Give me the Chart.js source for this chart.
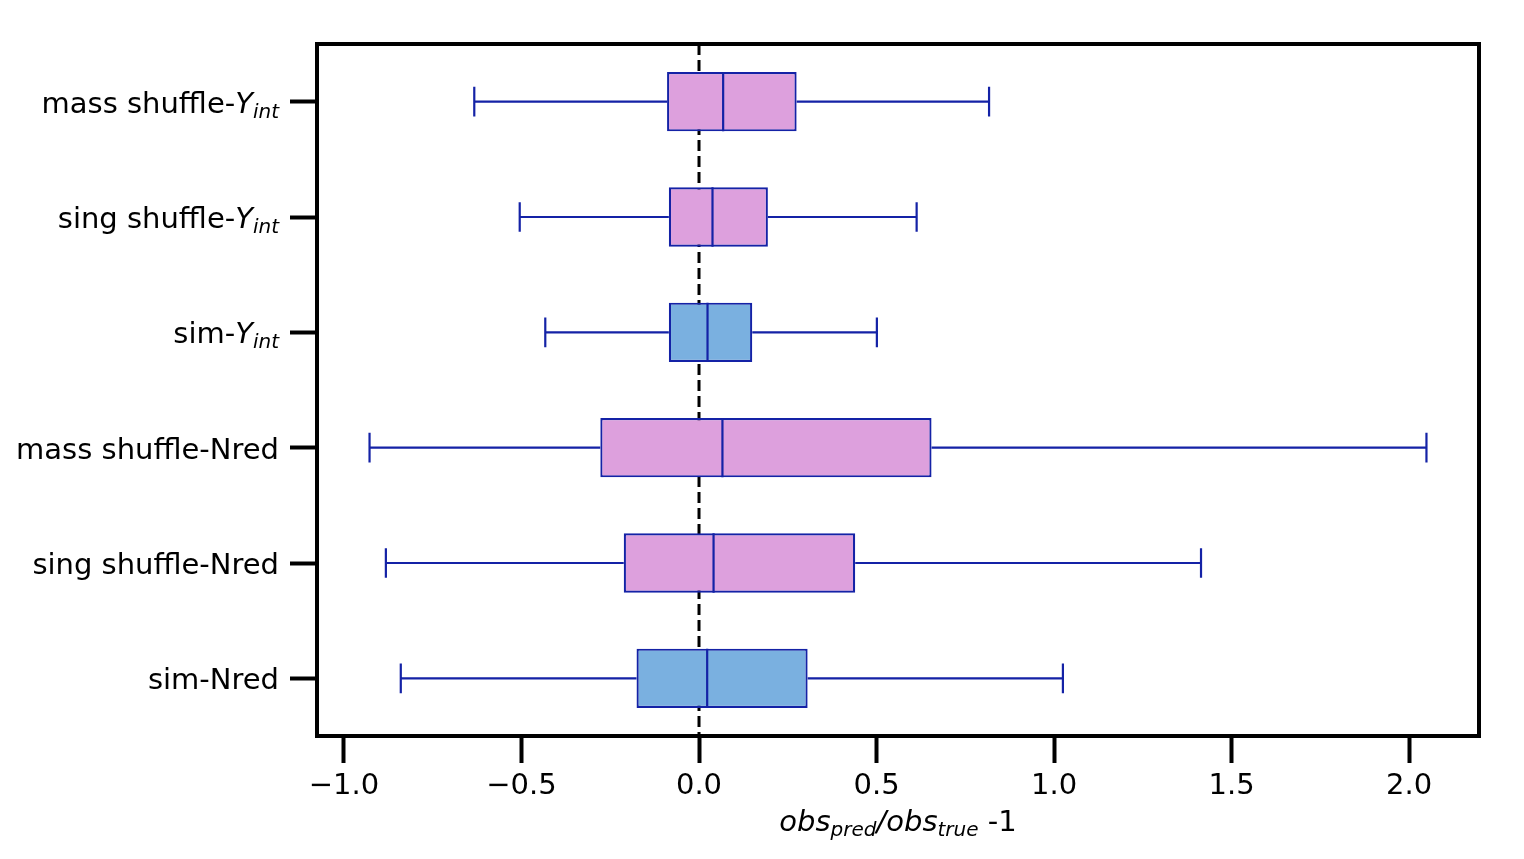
<!DOCTYPE html>
<html>
<head>
<title>box plot</title>
<script src="https://cdn.jsdelivr.net/npm/chart.js@4.4.1/dist/chart.umd.min.js"></script>
<style>
  body { margin: 0; background: #ffffff; }
  #wrap { width: 1524px; height: 859px; }
</style>
</head>
<body>
<div id="wrap"><canvas id="box1"></canvas></div>
<script>
// categories, top to bottom ($..$ = italic math, _{..} = subscript)
var categories = ['mass shuffle-$Y_{int}$', 'sing shuffle-$Y_{int}$', 'sim-$Y_{int}$',
                  'mass shuffle-Nred', 'sing shuffle-Nred', 'sim-Nred'];
var whiskerLow  = [-0.633, -0.505, -0.433, -0.928, -0.882, -0.840];
var q1          = [-0.090, -0.085, -0.085, -0.278, -0.212, -0.176];
var median      = [ 0.068,  0.038,  0.024,  0.066,  0.041,  0.023];
var q3          = [ 0.275,  0.194,  0.150,  0.655,  0.440,  0.306];
var whiskerHigh = [ 0.817,  0.613,  0.501,  2.049,  1.414,  1.025];
var boxKind     = ['shuffle', 'shuffle', 'sim', 'shuffle', 'shuffle', 'sim'];
var xTitle = '$obs_{pred}/obs_{true}$ -1';

var FONT = "'DejaVu Sans', sans-serif";
var FSIZE = 29;
var EDGE = '#1422a6';
var fills = { shuffle: '#dda0dd', sim: '#7ab0e0' };

// split "abc-$Y_{int}$" into runs of {text, italic, sub}
function parseRuns(s) {
  var runs = [], parts = s.split('$');
  parts.forEach(function (p, i) {
    if (!p) return;
    if (i % 2 === 0) { runs.push({ text: p, italic: false, sub: false }); return; }
    var re = /_\{([^}]*)\}/g, last = 0, m;
    while ((m = re.exec(p)) !== null) {
      if (m.index > last) runs.push({ text: p.slice(last, m.index), italic: true, sub: false });
      runs.push({ text: m[1], italic: true, sub: true });
      last = re.lastIndex;
    }
    if (last < p.length) runs.push({ text: p.slice(last), italic: true, sub: false });
  });
  return runs;
}

function runFont(r, size) {
  var sz = r.sub ? Math.round(size * 0.7) : size;
  return (r.italic ? 'italic ' : '') + sz + 'px ' + FONT;
}

// draw mixed runs; align 'right' or 'center' around x, on baseline y
function drawRuns(ctx, s, x, y, size, align) {
  var runs = parseRuns(s), total = 0;
  runs.forEach(function (r) { ctx.font = runFont(r, size); r.w = ctx.measureText(r.text).width; total += r.w; });
  var cx = align === 'right' ? x - total : x - total / 2;
  ctx.textAlign = 'left';
  ctx.textBaseline = 'alphabetic';
  runs.forEach(function (r) {
    ctx.font = runFont(r, size);
    ctx.fillText(r.text, cx, y + (r.sub ? 5 : 0));
    cx += r.w;
  });
}

var boxParts = {
  id: 'boxParts',
  beforeDatasetsDraw: function (chart) {
    var ctx = chart.ctx, a = chart.chartArea, x0 = chart.scales.x.getPixelForValue(0);
    ctx.save();
    ctx.strokeStyle = '#000';
    ctx.lineWidth = 3;
    ctx.setLineDash([11, 5]);
    ctx.beginPath();
    ctx.moveTo(x0, a.top);
    ctx.lineTo(x0, a.bottom);
    ctx.stroke();
    ctx.restore();
  },
  afterDatasetsDraw: function (chart) {
    var ctx = chart.ctx, xs = chart.scales.x, meta = chart.getDatasetMeta(0);
    ctx.save();
    ctx.strokeStyle = EDGE;
    ctx.lineWidth = 2.2;
    meta.data.forEach(function (bar, i) {
      var p = bar.getProps(['y', 'height'], true);
      var h = p.height / 2, cap = p.height / 4;
      var lo = xs.getPixelForValue(whiskerLow[i]), hi = xs.getPixelForValue(whiskerHigh[i]);
      var a = xs.getPixelForValue(q1[i]), b = xs.getPixelForValue(q3[i]);
      var m = xs.getPixelForValue(median[i]);
      ctx.beginPath();
      ctx.moveTo(lo, p.y); ctx.lineTo(a, p.y);
      ctx.moveTo(b, p.y); ctx.lineTo(hi, p.y);
      ctx.moveTo(lo, p.y - cap); ctx.lineTo(lo, p.y + cap);
      ctx.moveTo(hi, p.y - cap); ctx.lineTo(hi, p.y + cap);
      ctx.moveTo(m, p.y - h); ctx.lineTo(m, p.y + h);
      ctx.stroke();
    });
    ctx.restore();
  },
  afterDraw: function (chart) {
    var ctx = chart.ctx, a = chart.chartArea, ys = chart.scales.y;
    ctx.save();
    ctx.strokeStyle = '#000';
    ctx.lineWidth = 4;
    ctx.strokeRect(a.left, a.top, a.right - a.left, a.bottom - a.top);
    ctx.fillStyle = '#000';
    categories.forEach(function (c, i) {
      drawRuns(ctx, c, a.left - 38, ys.getPixelForValue(i) + 11, FSIZE, 'right');
    });
    drawRuns(ctx, xTitle, (a.left + a.right) / 2, a.bottom + 95, FSIZE, 'center');
    ctx.restore();
  }
};

var chart = new Chart(document.getElementById('box1').getContext('2d'), {
  type: 'bar',
  data: {
    labels: categories,
    datasets: [{
      data: categories.map(function (c, i) { return [q1[i], q3[i]]; }),
      backgroundColor: boxKind.map(function (k) { return fills[k]; }),
      borderColor: EDGE,
      borderWidth: 2.2,
      borderSkipped: false,
      categoryPercentage: 1,
      barPercentage: 0.515
    }]
  },
  options: {
    indexAxis: 'y',
    responsive: true,
    maintainAspectRatio: false,
    animation: false,
    layout: { padding: { top: 44, right: 45, left: 0, bottom: 0 } },
    plugins: { legend: { display: false }, tooltip: { enabled: false } },
    scales: {
      x: {
        type: 'linear',
        min: -1.076,
        max: 2.197,
        border: { display: false },
        grid: { drawOnChartArea: false, drawTicks: true, tickLength: 27, tickWidth: 4, tickColor: '#000' },
        ticks: {
          stepSize: 0.5,
          includeBounds: false,
          color: '#000',
          padding: 6,
          font: { family: FONT, size: FSIZE },
          callback: function (v) {
            var r = Math.round(v * 10) / 10;
            return (r < 0 ? '\u2212' : '') + Math.abs(r).toFixed(1);
          }
        },
        afterFit: function (s) { s.height = 123; }
      },
      y: {
        border: { display: false },
        grid: { offset: false, drawOnChartArea: false, drawTicks: true, tickLength: 27, tickWidth: 4, tickColor: '#000' },
        ticks: { display: false },
        afterFit: function (s) { s.width = 317; }
      }
    }
  },
  plugins: [boxParts]
});
</script>
</body>
</html>
